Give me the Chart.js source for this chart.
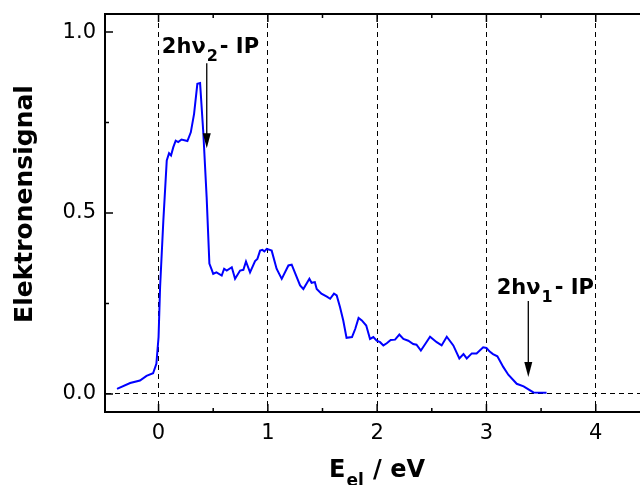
<!DOCTYPE html>
<html>
<head>
<meta charset="utf-8">
<script src="https://cdn.jsdelivr.net/npm/chart.js@4"></script>
<style>
  body { margin: 0; background: #fff; }
  #wrap { width: 640px; height: 485px; }
</style>
</head>
<body>
<div id="wrap"><canvas id="specChart"></canvas></div>
<script>

// electron energy in eV
const energy = [
  -0.38, -0.26, -0.17, -0.11, -0.05, -0.02, 0.0, 0.014, 0.044, 0.075,
  0.096, 0.114, 0.135, 0.157, 0.18, 0.21, 0.264, 0.295, 0.325, 0.355,
  0.38, 0.41, 0.44, 0.465, 0.487, 0.50, 0.53, 0.578, 0.60, 0.624,
  0.67, 0.70, 0.746, 0.776, 0.80, 0.837, 0.883, 0.904, 0.929, 0.95,
  0.968, 0.99, 1.035, 1.08, 1.127, 1.188, 1.218, 1.295, 1.325, 1.38,
  1.40, 1.43, 1.447, 1.49, 1.54, 1.57, 1.605, 1.63, 1.66, 1.69,
  1.72, 1.77, 1.80, 1.83, 1.86, 1.90, 1.935, 1.965, 1.996, 2.027,
  2.057, 2.088, 2.124, 2.164, 2.203, 2.24, 2.285, 2.33, 2.36, 2.40,
  2.44, 2.484, 2.545, 2.59, 2.637, 2.697, 2.752, 2.79, 2.82, 2.866,
  2.91, 2.97, 3.0, 3.03, 3.06, 3.10, 3.155, 3.20, 3.277, 3.34,
  3.43, 3.55
];

// electron signal (normalised)
const signal = [
  0.014, 0.030, 0.037, 0.050, 0.057, 0.083, 0.157, 0.295, 0.480, 0.645,
  0.665, 0.659, 0.682, 0.700, 0.696, 0.703, 0.699, 0.723, 0.774, 0.857,
  0.859, 0.719, 0.544, 0.360, 0.343, 0.332, 0.336, 0.327, 0.346, 0.341,
  0.350, 0.318, 0.341, 0.343, 0.366, 0.336, 0.367, 0.373, 0.396, 0.398,
  0.394, 0.401, 0.396, 0.346, 0.318, 0.355, 0.357, 0.300, 0.290, 0.318,
  0.307, 0.309, 0.290, 0.277, 0.269, 0.263, 0.277, 0.272, 0.240, 0.203,
  0.155, 0.157, 0.180, 0.210, 0.203, 0.189, 0.152, 0.157, 0.147, 0.143,
  0.134, 0.140, 0.149, 0.150, 0.164, 0.152, 0.147, 0.138, 0.136, 0.120,
  0.138, 0.158, 0.143, 0.134, 0.158, 0.134, 0.098, 0.110, 0.098, 0.112,
  0.112, 0.129, 0.127, 0.117, 0.110, 0.104, 0.074, 0.053, 0.028, 0.021,
  0.004, 0.003
];

const xTicks = [0, 1, 2, 3, 4];
const xMinorTicks = [0.5, 1.5, 2.5, 3.5];
const yTicks = [0.0, 0.5, 1.0];
const yMinorTicks = [0.25, 0.75];

const tickFont = { family: 'DejaVu Sans', size: 21, lineHeight: 1 };

// frame, inner ticks, axis titles and the two arrows
const extrasPlugin = {
  id: 'extras',
  afterDraw(chart){
    const ctx = chart.ctx;
    const area = chart.chartArea;
    const xs = chart.scales.x;
    const ys = chart.scales.y;

    ctx.save();
    ctx.strokeStyle = '#000';
    ctx.lineWidth = 2;
    ctx.beginPath();
    ctx.moveTo(area.left - 1, area.top);
    ctx.lineTo(area.right, area.top);
    ctx.stroke();

    ctx.lineWidth = 1.5;
    ctx.beginPath();
    xTicks.forEach(v => {
      let px = xs.getPixelForValue(v);
      ctx.moveTo(px, area.top); ctx.lineTo(px, area.top + 8);
      ctx.moveTo(px, area.bottom); ctx.lineTo(px, area.bottom - 8);
    });
    xMinorTicks.forEach(v => {
      let px = xs.getPixelForValue(v);
      ctx.moveTo(px, area.top); ctx.lineTo(px, area.top + 4);
      ctx.moveTo(px, area.bottom); ctx.lineTo(px, area.bottom - 4);
    });
    yTicks.forEach(v => {
      let py = ys.getPixelForValue(v);
      ctx.moveTo(area.left, py); ctx.lineTo(area.left + 8, py);
    });
    yMinorTicks.forEach(v => {
      let py = ys.getPixelForValue(v);
      ctx.moveTo(area.left, py); ctx.lineTo(area.left + 4, py);
    });
    ctx.stroke();

    ctx.fillStyle = '#000';
    ctx.textBaseline = 'alphabetic';
    ctx.textAlign = 'left';

    // x title: E_el / eV
    let tx = 329, ty = 477;
    ctx.font = 'bold 24px "DejaVu Sans"';
    ctx.fillText('E', tx, ty);
    tx += ctx.measureText('E').width + 1;
    ctx.font = 'bold 17px "DejaVu Sans"';
    ctx.fillText('el', tx, ty + 9);
    tx += ctx.measureText('el').width + 1;
    ctx.font = 'bold 24px "DejaVu Sans"';
    ctx.fillText(' / eV', tx, ty);

    // y title
    ctx.save();
    ctx.translate(32, 204);
    ctx.rotate(-Math.PI / 2);
    ctx.textAlign = 'center';
    ctx.font = 'bold 25px "DejaVu Sans"';
    ctx.fillText('Elektronensignal', 0, 0);
    ctx.restore();

    drawLabel(ctx, xs.getPixelForValue(0.03), ys.getPixelForValue(0.943), '2');
    drawLabel(ctx, xs.getPixelForValue(3.094), ys.getPixelForValue(0.275), '1');

    drawArrow(ctx, xs.getPixelForValue(0.441), ys.getPixelForValue(0.914), ys.getPixelForValue(0.679));
    drawArrow(ctx, xs.getPixelForValue(3.383), ys.getPixelForValue(0.257), ys.getPixelForValue(0.047));
    ctx.restore();
  }
};

function drawLabel(ctx, x, y, sub){
  ctx.font = 'bold 21px "DejaVu Sans"';
  ctx.fillText('2hν', x, y);
  x += ctx.measureText('2hν').width + 1;
  ctx.font = 'bold 16px "DejaVu Sans"';
  ctx.fillText(sub, x, y + 8);
  x += ctx.measureText(sub).width + 2;
  ctx.font = 'bold 21px "DejaVu Sans"';
  ctx.fillText('- IP', x, y);
}

function drawArrow(ctx, x, y1, y2){
  ctx.lineWidth = 1.3;
  ctx.beginPath();
  ctx.moveTo(x, y1);
  ctx.lineTo(x, y2 - 10);
  ctx.stroke();
  ctx.beginPath();
  ctx.moveTo(x, y2);
  ctx.lineTo(x - 4, y2 - 15);
  ctx.lineTo(x + 4, y2 - 15);
  ctx.closePath();
  ctx.fill();
}

const chartCanvas =
document.getElementById('specChart');

new Chart(chartCanvas, {
  type: 'line',
  data: {
    datasets: [{
      data: energy.map((e, i) => ({ x: e, y: signal[i] })),
      borderColor: '#0000ff',
      borderWidth: 2,
      pointRadius: 0,
      tension: 0,
      fill: false
    }]
  },
  plugins: [extrasPlugin],
  options: {
    responsive: true,
    maintainAspectRatio: false,
    animation: false,
    layout: { padding: { top: 14, right: 0, left: 0, bottom: 0 } },
    plugins: {
      legend: { display: false },
      tooltip: { enabled: false }
    },
    scales: {
      x: {
        type: 'linear',
        min: -0.49,
        max: 4.405,
        afterBuildTicks: axis => { axis.ticks = xTicks.map(v => ({ value: v })); },
        afterFit: scale => {
          scale.height = 73;
          scale.paddingLeft = 0;
          scale.paddingRight = 0;
        },
        ticks: {
          font: tickFont,
          color: '#000',
          padding: 11,
          maxRotation: 0,
          callback: v => String(v)
        },
        grid: {
          drawTicks: false,
          color: '#000',
          lineWidth: 1
        },
        border: { display: true, color: '#000', width: 2, dash: [5, 4] }
      },
      y: {
        type: 'linear',
        min: -0.05,
        max: 1.05,
        afterBuildTicks: axis => { axis.ticks = yTicks.map(v => ({ value: v })); },
        afterFit: scale => {
          scale.width = 105;
          scale.paddingTop = 0;
          scale.paddingBottom = 0;
        },
        ticks: {
          font: tickFont,
          color: '#000',
          padding: 9,
          callback: v => Number(v).toFixed(1)
        },
        grid: {
          drawTicks: false,
          color: ctx => (ctx.tick && ctx.tick.value === 0) ? '#000' : 'rgba(0,0,0,0)',
          lineWidth: 1
        },
        border: { display: true, color: '#000', width: 2, dash: [5, 4] }
      }
    }
  }
});

</script>
</body>
</html>
